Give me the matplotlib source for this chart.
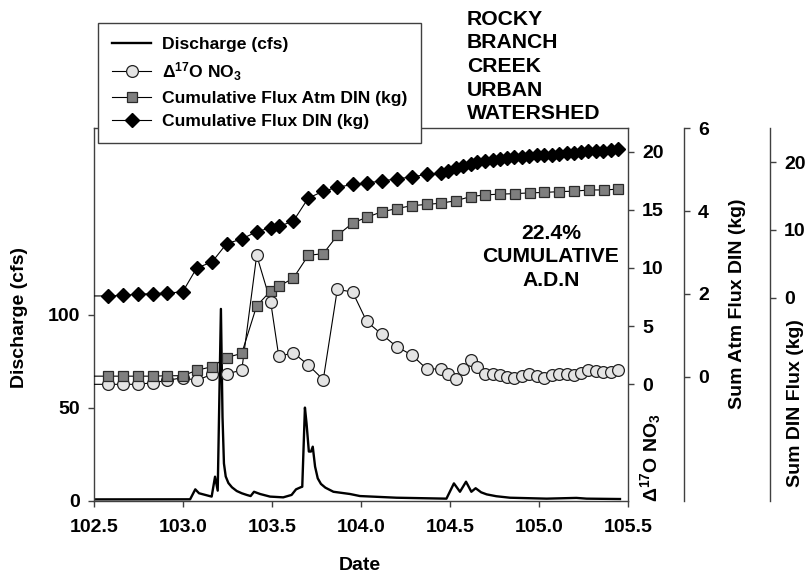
import matplotlib
matplotlib.use("Agg")
import matplotlib.pyplot as plt
from matplotlib.ticker import FixedLocator, FormatStrFormatter

plt.rcParams['font.family'] = ['Liberation Sans', 'DejaVu Sans']
plt.rcParams['font.weight'] = 'bold'
plt.rcParams['mathtext.fontset'] = 'custom'
plt.rcParams['mathtext.bf'] = 'Liberation Sans:bold'
plt.rcParams['mathtext.rm'] = 'Liberation Sans:bold'
plt.rcParams['mathtext.default'] = 'bf'

# ---------------- data ----------------
# Discharge (cfs)
q_date = [102.5, 103.04, 103.069, 103.09, 103.161, 103.180, 103.195, 103.213,
          103.222, 103.230, 103.240, 103.255, 103.275, 103.302, 103.330, 103.358,
          103.38, 103.399, 103.433, 103.489, 103.563, 103.61, 103.635, 103.661,
          103.670, 103.685, 103.694, 103.707, 103.719, 103.729, 103.742, 103.757,
          103.775, 103.800, 103.845, 103.938, 103.994, 104.2, 104.48, 104.522,
          104.556, 104.590, 104.62, 104.644, 104.675, 104.706, 104.760, 104.837,
          105.043, 105.21, 105.268, 105.455]
q_cfs = [0.7, 0.75, 6.1, 4.0, 2.2, 12.9, 5.4, 103, 45, 20, 13, 9.5, 7.2, 5.2, 4.0,
         3.1, 2.5, 4.8, 3.6, 2.2, 1.8, 3.1, 6.1, 7.2, 7.5, 50, 41.6, 26.4, 26.4,
         29, 18.3, 12, 9.0, 7.0, 4.8, 3.6, 2.5, 1.6, 1.1, 9.3, 4.8, 10.2, 4.8,
         6.7, 4.5, 3.4, 2.4, 1.6, 1.1, 1.5, 1.1, 0.9]

# sample dates for Δ17O and cumulative DIN (first entry = start of record line)
s_date = [102.5, 102.580, 102.665, 102.749, 102.830, 102.912, 102.998, 103.077,
          103.163, 103.245, 103.330, 103.414, 103.493, 103.538, 103.620, 103.704,
          103.788, 103.867, 103.953, 104.032, 104.116, 104.201, 104.285, 104.369,
          104.448, 104.491, 104.534, 104.575, 104.616, 104.653, 104.697, 104.740,
          104.781, 104.822, 104.861, 104.906, 104.946, 104.987, 105.030, 105.071,
          105.112, 105.155, 105.197, 105.236, 105.277, 105.320, 105.361, 105.404,
          105.446]

d17o = [0.0, 0.0, 0.0, 0.0, 0.14, 0.34, 0.57, 0.34, 0.86, 0.92, 1.20, 11.09,
        7.04, 2.41, 2.70, 1.66, 0.40, 8.16, 7.93, 5.40, 4.31, 3.22, 2.53, 1.32,
        1.32, 0.92, 0.49, 1.29, 2.07, 1.49, 0.92, 0.86, 0.78, 0.66, 0.52, 0.72,
        0.86, 0.72, 0.57, 0.78, 0.92, 0.86, 0.78, 0.97, 1.20, 1.12, 1.03, 1.09,
        1.20]

din_kg = [0.24, 0.24, 0.34, 0.49, 0.59, 0.68, 0.83, 4.37, 5.25, 7.96, 8.65, 9.73,
          10.3, 10.5, 11.3, 14.7, 15.7, 16.3, 16.7, 16.96, 17.2, 17.55, 17.8,
          18.2, 18.4, 18.75, 19.1, 19.4, 19.7, 19.95, 20.15, 20.3, 20.45, 20.6,
          20.7, 20.8, 20.9, 21.0, 21.1, 21.1, 21.2, 21.3, 21.4, 21.5, 21.6, 21.6,
          21.7, 21.8, 21.9]

# Atmospheric DIN (2-hourly)
a_date = [102.5, 102.580, 102.665, 102.749, 102.830, 102.912, 102.998, 103.077,
          103.163, 103.245, 103.330, 103.414, 103.493, 103.538, 103.620, 103.704,
          103.788, 103.867, 103.953, 104.032, 104.116, 104.201, 104.285, 104.369,
          104.448, 104.534, 104.616, 104.697, 104.781, 104.865, 104.949, 105.030,
          105.114, 105.197, 105.281, 105.365, 105.446]
atm_kg = [0.01, 0.01, 0.01, 0.01, 0.01, 0.02, 0.02, 0.15, 0.24, 0.46, 0.56, 1.71,
          2.07, 2.18, 2.38, 2.93, 2.97, 3.41, 3.71, 3.85, 3.98, 4.06, 4.13, 4.16,
          4.19, 4.25, 4.35, 4.39, 4.41, 4.42, 4.44, 4.45, 4.47, 4.48, 4.51, 4.51,
          4.53]

x_ticks = [102.5, 103.0, 103.5, 104.0, 104.5, 105.0, 105.5]
q_ticks = [0, 50, 100]
d_ticks = [0, 5, 10, 15, 20]
a_ticks = [0, 2, 4, 6]
n_ticks = [0, 10, 20]

# ---------------- figure ----------------
W, H = 809, 575
fig = plt.figure(figsize=(W / 100, H / 100), dpi=100)
L, R, B, T = 94, 628, 500.7, 128.3
ax = fig.add_axes([L / W, 1 - B / H, (R - L) / W, (B - T) / H])
spine_c = '#404040'
FS = 14
TFS = 15.2

def style_ticks(a, axis):
    a.tick_params(axis=axis, direction='out', length=4, width=1, color=spine_c,
                  labelsize=FS, pad=6)
    for lab in (a.get_xticklabels() if axis == 'x' else a.get_yticklabels()):
        lab.set_fontweight('bold')

ax.plot(q_date, q_cfs, color='black', lw=1.7, zorder=2)
ax.set_xlim(102.5, 105.5)
ax.set_ylim(0, 200)
ax.xaxis.set_major_locator(FixedLocator(x_ticks))
ax.xaxis.set_major_formatter(FormatStrFormatter('%.1f'))
ax.yaxis.set_major_locator(FixedLocator(q_ticks))
for s in ['left', 'bottom', 'top']:
    ax.spines[s].set_color(spine_c)
    ax.spines[s].set_linewidth(1)
ax.spines['right'].set_visible(False)
ax.tick_params(axis='x', direction='out', length=4, width=1, color=spine_c,
               labelsize=FS, pad=9)
ax.tick_params(axis='y', direction='out', length=4, width=1, color=spine_c,
               labelsize=FS, pad=6)
for lab in ax.get_xticklabels() + ax.get_yticklabels():
    lab.set_fontweight('bold')

# Δ17O axis
ax2 = ax.twinx()
ax2.set_ylim(-10, 22)
ax2.yaxis.set_major_locator(FixedLocator(d_ticks))
# Atm DIN axis
ax3 = ax.twinx()
ax3.spines['right'].set_position(('axes', (684 - L) / (R - L)))
ax3.set_ylim(-3, 6)
ax3.yaxis.set_major_locator(FixedLocator(a_ticks))
# DIN axis
ax4 = ax.twinx()
ax4.spines['right'].set_position(('axes', (770 - L) / (R - L)))
ax4.set_ylim(-30, 25)
ax4.yaxis.set_major_locator(FixedLocator(n_ticks))

for a in (ax2, ax3, ax4):
    for s in ['left', 'bottom', 'top']:
        a.spines[s].set_visible(False)
    a.spines['right'].set_color(spine_c)
    a.spines['right'].set_linewidth(1)
    style_ticks(a, 'y')
    a.set_xlim(102.5, 105.5)

h_din, = ax4.plot(s_date, din_kg, color='black', lw=0.8, marker='D', ms=7,
                  mfc='black', mec='black', markevery=slice(1, None), zorder=3)
h_atm, = ax3.plot(a_date, atm_kg, color='black', lw=0.8, marker='s', ms=6.5,
                  mfc='#7f7f7f', mec='#2a2a2a', mew=0.9,
                  markevery=slice(1, None), zorder=3)
h_d17, = ax2.plot(s_date, d17o, color='black', lw=0.8, marker='o', ms=8.5,
                  mfc='#e4e4e4', mec='#222222', mew=0.9,
                  markevery=slice(1, None), zorder=3)
h_q, = ax.plot([], [], color='black', lw=1.7)

# axis labels
fig.text(20 / W, 1 - 318 / H, 'Discharge (cfs)', rotation=90, ha='center',
         va='center', fontsize=FS, fontweight='bold')
fig.text(360 / W, 1 - 565 / H, 'Date', ha='center', va='center', fontsize=FS,
         fontweight='bold')
fig.text(651 / W, 1 - 457 / H, 'Δ$^{17}$O NO$_3$', rotation=90, ha='center',
         va='center', fontsize=FS, fontweight='bold')
fig.text(737 / W, 1 - 304 / H, 'Sum Atm Flux DIN (kg)', rotation=90,
         ha='center', va='center', fontsize=FS, fontweight='bold')
fig.text(796 / W, 1 - 403 / H, 'Sum DIN Flux (kg)', rotation=90,
         ha='center', va='center', fontsize=FS, fontweight='bold')

# annotations
fig.text(467 / W, 1 - 10 / H, 'ROCKY\nBRANCH\nCREEK\nURBAN\nWATERSHED',
         ha='left', va='top', fontsize=TFS, fontweight='bold', linespacing=1.3)
fig.text(551 / W, 1 - 257 / H, '22.4%\nCUMULATIVE\nA.D.N', ha='center',
         va='center', fontsize=TFS, fontweight='bold', linespacing=1.28)

leg = fig.legend([h_q, h_d17, h_atm, h_din],
                 ['Discharge (cfs)', 'Δ$^{17}$O NO$_3$',
                  'Cumulative Flux Atm DIN (kg)', 'Cumulative Flux DIN (kg)'],
                 loc='upper left', bbox_to_anchor=(98 / W, 1 - 23 / H),
                 prop={'weight': 'bold', 'size': 12.6}, frameon=True,
                 fancybox=False, edgecolor=spine_c, framealpha=1,
                 handlelength=2.25, labelspacing=0.45, borderpad=0.8,
                 handletextpad=0.6, borderaxespad=0)
leg.get_frame().set_linewidth(1)

fig.savefig('out.png', dpi=100)
